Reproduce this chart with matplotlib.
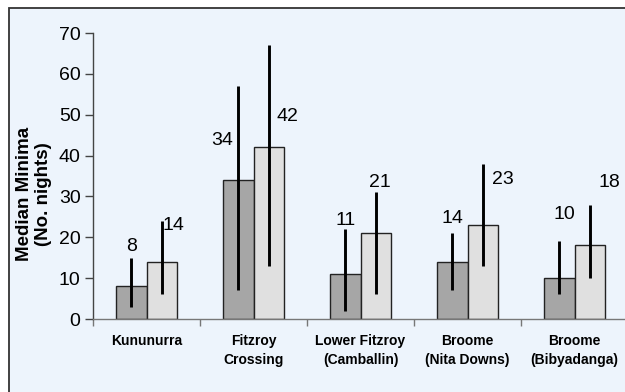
import matplotlib.pyplot as plt
from matplotlib.patches import Rectangle
import numpy as np

# Sites and median minima (no. nights) with their ranges
sites = ['Kununurra', 'Fitzroy\nCrossing', 'Lower Fitzroy\n(Camballin)',
         'Broome\n(Nita Downs)', 'Broome\n(Bibyadanga)']
median_a = [8, 34, 11, 14, 10]
median_b = [14, 42, 21, 23, 18]
low_a = [3, 7, 2, 7, 6]
high_a = [15, 57, 22, 21, 19]
low_b = [6, 13, 6, 13, 10]
high_b = [24, 67, 31, 38, 28]

# hand-placed value label positions (x shift in px, label height in data units)
lab_dx_a = [0, -16, 0, 0, 5]
lab_y_a = [17.8, 43.7, 24.1, 24.6, 25.5]
lab_dx_b = [12, 19, 4, 20, 20]
lab_y_b = [23.0, 49.6, 33.4, 34.1, 33.4]

plt.rcParams['font.family'] = 'Liberation Sans'

W, H = 625, 392
fig = plt.figure(figsize=(W / 100, H / 100), dpi=100)
fig.patch.set_facecolor('white')

# chart area background with border on top/left
fig.patches.append(Rectangle((8.5 / W, -0.1), 1.2, 1.1 - 7.5 / H, transform=fig.transFigure,
                             facecolor='#EDF4FC', edgecolor='#333333', lw=1.3, zorder=-1))

ax = fig.add_axes([93 / W, (H - 319) / H, 535 / W, 286 / H])
ax.patch.set_alpha(0)

x = np.arange(len(sites))
w = 0.285
ax.bar(x - w / 2, median_a, w, color='#A6A6A6', edgecolor='#222222', lw=1.0, zorder=2)
ax.bar(x + w / 2, median_b, w, color='#E0E0E0', edgecolor='#222222', lw=1.0, zorder=2)
ax.vlines(x - w / 2, low_a, high_a, color='black', lw=2.1, zorder=3)
ax.vlines(x + w / 2, low_b, high_b, color='black', lw=2.1, zorder=3)

px = 1 / 107.0
for i in range(len(sites)):
    ax.text(x[i] - w / 2 + lab_dx_a[i] * px, lab_y_a[i], str(median_a[i]),
            ha='center', va='center', fontsize=14, zorder=4)
    ax.text(x[i] + w / 2 + lab_dx_b[i] * px, lab_y_b[i], str(median_b[i]),
            ha='center', va='center', fontsize=14, zorder=4)

ax.set_xlim(-0.5, len(sites) - 0.5)
ax.set_ylim(0, 70)
ax.set_yticks(range(0, 71, 10))
ax.tick_params(axis='y', length=6, width=1, color='#444444', pad=3, labelsize=14)

ax.set_xticks(x)
ax.set_xticklabels(sites, fontweight='bold', fontsize=10, linespacing=1.45)
ax.tick_params(axis='x', length=0, pad=10.5)
ax.set_xticks(np.arange(-0.5, len(sites), 1), minor=True)
ax.tick_params(axis='x', which='minor', length=5, width=1, color='#777777', direction='out')

for side in ['top', 'right']:
    ax.spines[side].set_visible(False)
ax.spines['left'].set_color('#444444')
ax.spines['bottom'].set_color('#777777')
ax.spines['left'].set_linewidth(1)
ax.spines['bottom'].set_linewidth(1)

fig.text(34 / W, 1 - 194 / H, 'Median Minima\n(No. nights)', rotation=90, ha='center',
         va='center', fontsize=13.5, fontweight='bold', linespacing=1.15)

fig.savefig('out.png', dpi=100)
